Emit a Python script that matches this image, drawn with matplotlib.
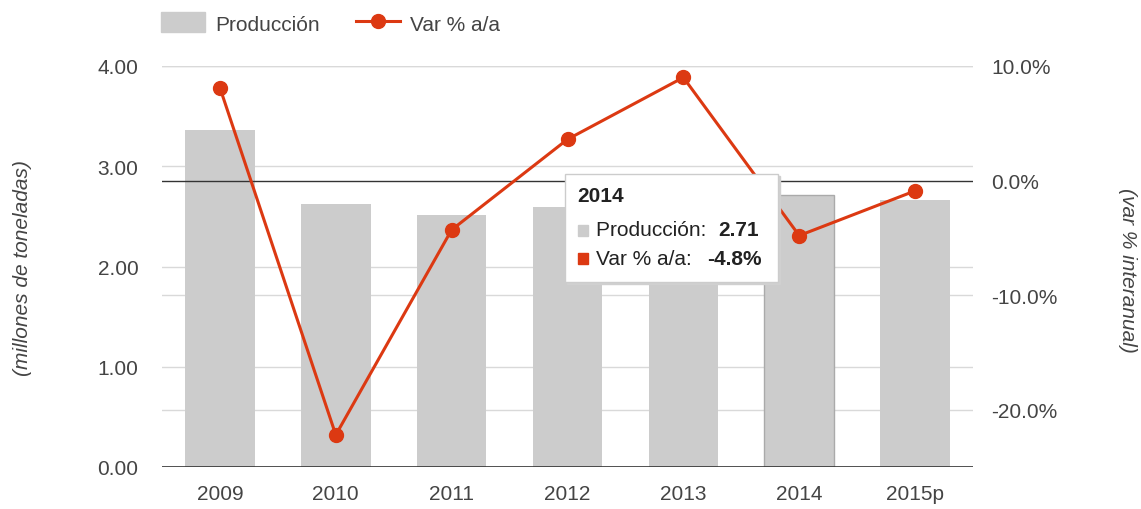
import numpy as np
import matplotlib.pyplot as plt
from matplotlib.patches import Rectangle
from matplotlib.lines import Line2D

plt.rcParams['font.family'] = ['Liberation Sans', 'DejaVu Sans']

years = ['2009', '2010', '2011', '2012', '2013', '2014', '2015p']
produccion = [3.36, 2.62, 2.51, 2.59, 2.85, 2.71, 2.66]
var_pct = [8.1, -22.2, -4.3, 3.6, 9.0, -4.8, -0.9]
left_ticks = [0, 1, 2, 3, 4]
right_ticks = [-20, -10, 0, 10]
hover = 5  # index shown in the tooltip

bar_col = '#cccccc'
red = '#dc3912'
txt = '#444444'
fs = 15

fig = plt.figure(figsize=(11.41, 5.10), dpi=100)
ax = fig.add_axes([162 / 1141, 1 - 468 / 510, 811 / 1141, 401 / 510])
ax2 = ax.twinx()

x = np.arange(len(years))
edges = ['none'] * len(years)
edges[hover] = '#aaaaaa'
ax.bar(x, produccion, width=0.6, color=bar_col, edgecolor=edges, linewidth=1, zorder=2)
ax.set_xlim(-0.5, len(years) - 0.5)
ax.set_ylim(0, 4)
ax.set_yticks(left_ticks)
ax.set_yticklabels(['%.2f' % v for v in left_ticks])
ax.set_xticks(x)
ax.set_xticklabels(years)
for v in left_ticks[1:]:
    ax.axhline(v, color='#d9d9d9', lw=1, zorder=1)
ax.axhline(0, color='#333333', lw=1.2, zorder=3)

ax2.set_ylim(-25, 10)
ax2.set_yticks(right_ticks)
ax2.set_yticklabels(['%.1f%%' % v for v in right_ticks])
for v in right_ticks:
    if v != 0:
        ax.axhline((v + 25) / 35 * 4, color='#d9d9d9', lw=1, zorder=1)
ax.axhline(25 / 35 * 4, color='#333333', lw=1, zorder=3)
ax2.plot(x, var_pct, color=red, lw=2.2, marker='o', markersize=10, zorder=4)

for a in (ax, ax2):
    for s in a.spines.values():
        s.set_visible(False)
    a.tick_params(length=0, labelsize=fs, colors=txt)
ax.tick_params(axis='y', pad=17)
ax.tick_params(axis='x', pad=12)
ax2.tick_params(axis='y', pad=13)

fig.text(23 / 1141, 1 - 268 / 510, '(millones de toneladas)', rotation=90, style='italic',
         fontsize=fs, color=txt, ha='center', va='center')
fig.text(1127 / 1141, 1 - 270 / 510, '(var % interanual)', rotation=-90, style='italic',
         fontsize=fs, color=txt, ha='center', va='center')

# legend
handles = [Rectangle((0, 0), 1, 1, color=bar_col),
           Line2D([], [], color=red, lw=2.2, marker='o', markersize=10)]
fig.legend(handles, ['Producción', 'Var % a/a'], loc='center left',
           bbox_to_anchor=(142 / 1141, 1 - 24 / 510), ncol=2, frameon=False,
           fontsize=fs, handlelength=2.1, handleheight=1.1, columnspacing=1.75,
           handletextpad=0.5, labelcolor=txt)

# tooltip
W, H = 1141, 510
bx, by, bw, bh = 565, 175, 213, 108
fig.patches.append(Rectangle(((bx + 2) / W, 1 - (by + bh + 2) / H), bw / W, bh / H,
                             transform=fig.transFigure, color='#d0d0d0', zorder=5))
fig.patches.append(Rectangle((bx / W, 1 - (by + bh) / H), bw / W, bh / H,
                             transform=fig.transFigure, facecolor='white',
                             edgecolor='#cccccc', lw=1, zorder=6))
fig.text(577 / W, 1 - 197 / H, years[hover], fontsize=fs, weight='bold', color='#222222',
         va='center', zorder=7)
fig.patches.append(Rectangle((578 / W, 1 - 237 / H), 10 / W, 11 / H,
                             transform=fig.transFigure, color=bar_col, zorder=7))
fig.patches.append(Rectangle((578 / W, 1 - 265 / H), 10 / W, 11 / H,
                             transform=fig.transFigure, color=red, zorder=7))
fig.text(596 / W, 1 - 231 / H, 'Producción: ', fontsize=fs, color='#222222', va='center', zorder=7)
fig.text(718 / W, 1 - 231 / H, '%.2f' % produccion[hover], fontsize=fs, weight='bold',
         color='#222222', va='center', zorder=7)
fig.text(596 / W, 1 - 260 / H, 'Var % a/a: ', fontsize=fs, color='#222222', va='center', zorder=7)
fig.text(707 / W, 1 - 260 / H, '%.1f%%' % var_pct[hover], fontsize=fs, weight='bold',
         color='#222222', va='center', zorder=7)

fig.savefig('out.png', dpi=100)
